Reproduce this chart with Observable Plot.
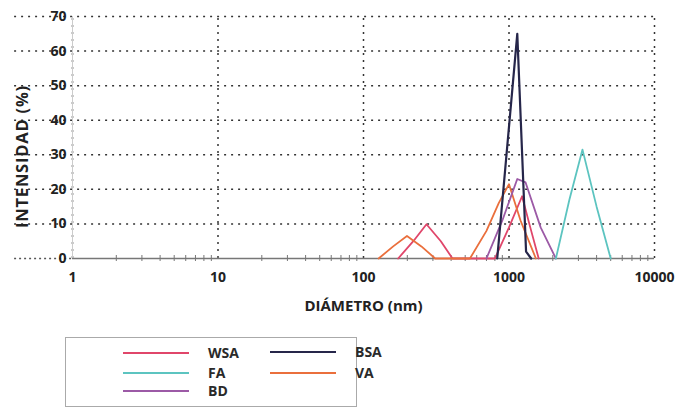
<!DOCTYPE html>
<html>
<head>
<meta charset="utf-8">
<script src="https://cdn.jsdelivr.net/npm/d3@7"></script>
<script src="https://cdn.jsdelivr.net/npm/@observablehq/plot@0.6"></script>
<style>
  html, body { margin: 0; padding: 0; background: #fff; }
  #wrap { position: relative; width: 682px; height: 412px; font-family: "Open Sans", sans-serif; }
  #chart svg text { font-family: "Open Sans", sans-serif; font-weight: 700; fill: #222; }
  #legend { position: absolute; left: 65px; top: 337px; width: 292px; height: 70px; border: 1px solid #aaa; box-sizing: border-box; }
  .item { position: absolute; height: 16px; }
  .sw { position: absolute; left: 0; top: 7px; width: 66px; height: 0; border-top: 2px solid; }
  .lb { position: absolute; left: 85px; top: 0px; font-size: 14px; font-weight: 700; color: #2a2a2a; line-height: 16px; }
</style>
</head>
<body>
<div id="wrap">
  <div id="chart"></div>
  <div id="legend"></div>
</div>
<script>
// Series (diameter nm, intensity %)
const seriesNames = ["WSA", "FA", "BD", "BSA", "VA"];
const seriesColors = ["#e0466a", "#5cc4c0", "#9c5aa6", "#26264a", "#ea6f3c"];

const wsaD = [173, 220, 271, 340, 409, 800, 1000, 1230, 1400, 1600];
const wsaI = [0, 5, 9.9, 5, 0, 0, 9, 18, 9, 0];
const faD = [2100, 2600, 3200, 4000, 5000];
const faI = [0, 17, 31.5, 15, 0];
const bdD = [700, 900, 1140, 1300, 1650, 2100];
const bdI = [0, 11, 23, 22, 9, 0];
const bsaD = [830, 1140, 1310, 1420];
const bsaI = [0, 65, 2, 0];
const vaD = [127, 160, 199, 250, 311, 539, 700, 850, 1000, 1200, 1530];
const vaI = [0, 3.5, 6.5, 3.5, 0, 0, 8, 16, 21.5, 11, 0];

const xTicks = [1, 10, 100, 1000, 10000];
const yTicks = [0, 10, 20, 30, 40, 50, 60, 70];

const xs = {WSA: wsaD, FA: faD, BD: bdD, BSA: bsaD, VA: vaD};
const ys = {WSA: wsaI, FA: faI, BD: bdI, BSA: bsaI, VA: vaI};
const drawOrder = ["WSA", "VA", "BD", "FA", "BSA"];
const rows = drawOrder.flatMap(s => xs[s].map((d, i) => ({series: s, d, v: ys[s][i]})));

const minor = d3.range(0, 4).flatMap(e => d3.range(2, 10).map(k => k * Math.pow(10, e)));

const chart = Plot.plot({
  width: 682,
  height: 330,
  marginLeft: 72,
  marginRight: 28,
  marginTop: 16,
  marginBottom: 72,
  x: {type: "log", domain: [1, 10000]},
  y: {domain: [0, 70]},
  color: {domain: seriesNames, range: seriesColors},
  style: {fontSize: "13px", background: "white"},
  marks: [
    Plot.ruleY(yTicks.filter(v => v > 0), {x1: 0.4, x2: 10000, stroke: "#333", strokeWidth: 1.5, strokeDasharray: "2,5"}),
    Plot.ruleY([0], {x1: 0.4, x2: 1, stroke: "#555", strokeWidth: 1.5, strokeDasharray: "2,3"}),
    Plot.ruleX(xTicks, {y1: 0, y2: 70, stroke: "#333", strokeWidth: 1.5, strokeDasharray: "2,5"}),
    Plot.ruleX([1], {y1: 0, y2: 70, stroke: "#ccc", strokeWidth: 1}),
    Plot.ruleY([0], {stroke: "#777", strokeWidth: 1.5}),
    Plot.axisX(minor, {tickSize: 3, tickFormat: () => "", stroke: "#777", label: null}),
    Plot.axisX(minor, {tickSize: -3, tickFormat: () => "", stroke: "#777", label: null}),
    Plot.axisX(xTicks, {tickSize: 0, tickPadding: 14, tickFormat: d => String(d), fontSize: 14,
      label: "DIÁMETRO (nm)", labelAnchor: "center", labelOffset: 52, labelArrow: "none"}),
    Plot.axisY(yTicks, {tickSize: 0, tickPadding: 6, fontSize: 14,
      label: "INTENSIDAD (%)", labelAnchor: "center", labelOffset: 56, labelArrow: "none"}),
    Plot.line(rows, {x: "d", y: "v", z: "series", stroke: "series", strokeWidth: d => d.series === "BSA" ? 2.2 : 1.8})
  ]
});
document.getElementById("chart").appendChild(chart);

// axis titles
chart.querySelectorAll("g[aria-label='x-axis label'] text").forEach(t => {
  t.style.fontSize = "15px";
});
chart.querySelectorAll("g[aria-label='y-axis label'] text").forEach(t => {
  t.style.fontSize = "16.5px";
  t.style.letterSpacing = "0.8px";
  t.setAttribute("dx", "-19");
});

// legend
const legendPos = {
  WSA: [57, 7], FA: [57, 27], BD: [57, 45], BSA: [204, 6], VA: [204, 27]
};
const legend = document.getElementById("legend");
seriesNames.forEach((s, i) => {
  const it = document.createElement("div");
  it.className = "item";
  it.style.left = legendPos[s][0] + "px";
  it.style.top = legendPos[s][1] + "px";
  const sw = document.createElement("div");
  sw.className = "sw";
  sw.style.borderTopColor = seriesColors[i];
  const lb = document.createElement("div");
  lb.className = "lb";
  lb.textContent = s;
  it.appendChild(sw); it.appendChild(lb);
  legend.appendChild(it);
});
</script>
</body>
</html>
